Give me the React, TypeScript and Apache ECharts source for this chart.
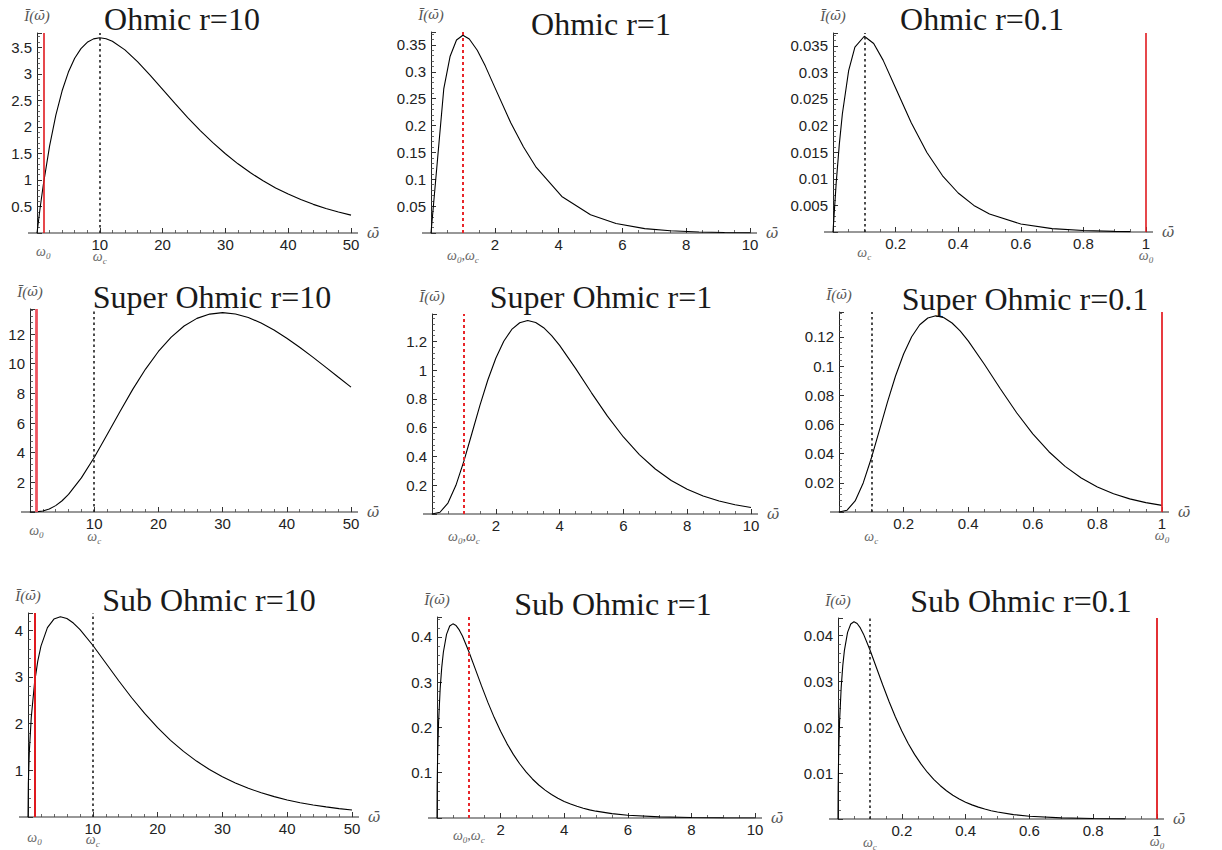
import React, { useEffect, useRef } from "react";
import * as echarts from "echarts";

// ---- spectral intensity samples, one pair of arrays per panel ----
// Ohmic bath
const ohmic10X = [0, 0.5, 1, 2, 3, 4, 5, 6, 7, 8, 9, 10, 11, 12, 14, 16, 18, 20, 22, 24, 26, 28, 30, 32, 34, 36, 38, 40, 42, 44, 46, 48, 50];
const ohmic10Y = [0, 0.476, 0.905, 1.637, 2.222, 2.681, 3.033, 3.293, 3.476, 3.595, 3.659, 3.679, 3.662, 3.614, 3.452, 3.23, 2.975, 2.707, 2.438, 2.177, 1.931, 1.703, 1.494, 1.304, 1.135, 0.984, 0.85, 0.733, 0.63, 0.54, 0.462, 0.395, 0.337];
const ohmic1X = [0, 0.4, 0.6, 0.8, 1, 1.2, 1.45, 1.7, 2, 2.5, 2.9, 3.3, 4.1, 5, 5.8, 6.7, 7.5, 8.4, 9.2, 10];
const ohmic1Y = [0, 0.268, 0.329, 0.359, 0.368, 0.361, 0.34, 0.311, 0.271, 0.205, 0.16, 0.122, 0.068, 0.034, 0.0176, 0.0082, 0.0041, 0.0019, 0.0009, 0.00045];
const ohmic01X = [0, 0.01, 0.02, 0.03, 0.05, 0.07, 0.1, 0.13, 0.16, 0.2, 0.25, 0.3, 0.35, 0.4, 0.45, 0.5, 0.6, 0.7, 0.8, 0.9, 0.95];
const ohmic01Y = [0, 0.00905, 0.01637, 0.02222, 0.03033, 0.03476, 0.03679, 0.03543, 0.0323, 0.02707, 0.02052, 0.01494, 0.01057, 0.00733, 0.005, 0.00337, 0.00149, 0.00064, 0.00027, 0.00011, 0.00007];

// Super-Ohmic bath
const super10X = [0, 1, 2, 3, 4, 5, 6, 8, 10, 12, 14, 16, 18, 20, 22, 24, 26, 28, 30, 32, 34, 36, 38, 40, 42, 44, 46, 48, 50];
const super10Y = [0, 0.009, 0.066, 0.2, 0.429, 0.758, 1.185, 2.3, 3.679, 5.205, 6.767, 8.27, 9.64, 10.827, 11.798, 12.541, 13.059, 13.347, 13.443, 13.356, 13.116, 12.747, 12.275, 11.722, 11.113, 10.461, 9.783, 9.101, 8.422];
const super1X = [0, 0.25, 0.5, 0.75, 1, 1.25, 1.5, 1.75, 2, 2.25, 2.5, 2.75, 3, 3.25, 3.5, 3.75, 4, 4.5, 5, 5.5, 6, 6.5, 7, 7.5, 8, 8.5, 9, 9.5, 10];
const super1Y = [0, 0.0122, 0.0758, 0.1993, 0.3679, 0.5596, 0.7531, 0.9314, 1.0827, 1.2006, 1.2826, 1.3291, 1.3443, 1.331, 1.2946, 1.2403, 1.1722, 1.0124, 0.8422, 0.68, 0.5354, 0.4128, 0.3128, 0.2333, 0.1718, 0.1248, 0.09, 0.0642, 0.0454];
const super01X = [0, 0.025, 0.05, 0.075, 0.1, 0.125, 0.15, 0.175, 0.2, 0.225, 0.25, 0.275, 0.3, 0.325, 0.35, 0.375, 0.4, 0.45, 0.5, 0.55, 0.6, 0.65, 0.7, 0.75, 0.8, 0.85, 0.9, 0.95, 1];
const super01Y = [0, 0.00122, 0.00758, 0.01993, 0.03679, 0.05596, 0.07531, 0.09314, 0.10827, 0.12006, 0.12826, 0.13291, 0.13443, 0.1331, 0.12946, 0.12403, 0.11722, 0.10124, 0.08422, 0.068, 0.05354, 0.04128, 0.03128, 0.02333, 0.01718, 0.01248, 0.009, 0.00642, 0.00454];

// Sub-Ohmic bath
const sub10X = [0, 0.05, 0.2, 0.5, 1, 1.5, 2, 3, 4, 5, 6, 7, 8, 10, 12, 14, 16, 18, 20, 22, 24, 26, 28, 30, 32, 34, 36, 38, 40, 42, 44, 46, 48, 50];
const sub10Y = [0, 0.704, 1.386, 2.127, 2.861, 3.334, 3.661, 4.057, 4.24, 4.289, 4.251, 4.155, 4.019, 3.679, 3.299, 2.918, 2.554, 2.218, 1.914, 1.643, 1.405, 1.198, 1.017, 0.862, 0.729, 0.615, 0.518, 0.436, 0.366, 0.307, 0.258, 0.216, 0.18, 0.151];
const sub1X = [0, 0.005, 0.02, 0.05, 0.1, 0.15, 0.2, 0.3, 0.4, 0.5, 0.6, 0.7, 0.8, 1, 1.2, 1.4, 1.6, 1.8, 2, 2.2, 2.4, 2.6, 2.8, 3, 3.2, 3.4, 3.6, 3.8, 4, 4.2, 4.4, 4.6, 4.8, 5, 5.5, 6, 7, 8, 9, 10];
const sub1Y = [0, 0.0704, 0.1386, 0.2127, 0.2861, 0.3334, 0.3661, 0.4057, 0.424, 0.4289, 0.4251, 0.4155, 0.4019, 0.3679, 0.3299, 0.2918, 0.2554, 0.2218, 0.1914, 0.1643, 0.1405, 0.1198, 0.1017, 0.0862, 0.0729, 0.0615, 0.0518, 0.0436, 0.0366, 0.0307, 0.0258, 0.0216, 0.018, 0.0151, 0.0096, 0.0061, 0.0024, 0.00095, 0.00037, 0.00014];
const sub01X = [0, 0.0005, 0.002, 0.005, 0.01, 0.015, 0.02, 0.03, 0.04, 0.05, 0.06, 0.07, 0.08, 0.1, 0.12, 0.14, 0.16, 0.18, 0.2, 0.22, 0.24, 0.26, 0.28, 0.3, 0.32, 0.34, 0.36, 0.38, 0.4, 0.42, 0.44, 0.46, 0.48, 0.5, 0.55, 0.6, 0.7, 0.8, 0.9];
const sub01Y = [0, 0.00704, 0.01386, 0.02127, 0.02861, 0.03334, 0.03661, 0.04057, 0.0424, 0.04289, 0.04251, 0.04155, 0.04019, 0.03679, 0.03299, 0.02918, 0.02554, 0.02218, 0.01914, 0.01643, 0.01405, 0.01198, 0.01017, 0.00862, 0.00729, 0.00615, 0.00518, 0.00436, 0.00366, 0.00307, 0.00258, 0.00216, 0.0018, 0.00151, 0.00096, 0.00061, 0.00024, 0.000095, 0.000037];

// Panel titles, row by row
const titles = [
  "Ohmic r=10", "Ohmic r=1", "Ohmic r=0.1",
  "Super Ohmic r=10", "Super Ohmic r=1", "Super Ohmic r=0.1",
  "Sub Ohmic r=10", "Sub Ohmic r=1", "Sub Ohmic r=0.1",
];
const xs = [ohmic10X, ohmic1X, ohmic01X, super10X, super1X, super01X, sub10X, sub1X, sub01X];
const ys = [ohmic10Y, ohmic1Y, ohmic01Y, super10Y, super1Y, super01Y, sub10Y, sub1Y, sub01Y];

// Characteristic frequencies: bath cutoff ωc per column, system frequency ω0
const omegaC = [10, 1, 0.1];
const omega0 = 1;

// Axis ranges and tick steps per panel
const xMax = [50, 10, 1, 50, 10, 1, 50, 10, 1];
const xStep = [10, 2, 0.2, 10, 2, 0.2, 10, 2, 0.2];
const yMax = [3.77, 0.374, 0.0374, 13.69, 1.39, 0.137, 4.37, 0.444, 0.0437];
const yStep = [0.5, 0.05, 0.005, 2, 0.2, 0.02, 1, 0.1, 0.01];

// ---- layout (pixels) ----
const GRIDS = [
  { left: 37, top: 33, width: 314, height: 200 },
  { left: 431, top: 32, width: 319, height: 201 },
  { left: 833, top: 33, width: 313, height: 199 },
  { left: 30, top: 309, width: 321, height: 203 },
  { left: 432, top: 314, width: 319, height: 200 },
  { left: 839, top: 312, width: 323, height: 200 },
  { left: 28, top: 613, width: 324, height: 204 },
  { left: 437, top: 617, width: 318, height: 201 },
  { left: 838, top: 618, width: 319, height: 201 },
];
const TITLE_POS = [
  [182, 19], [601, 24], [982, 19],
  [212, 297], [601, 297], [1025, 299],
  [209, 600], [613, 604], [1021, 601],
];
// vertical distance of the ω labels below the axis: [ω0, ωc]
const LABEL_DY = [
  [18, 23], [22, 22], [23, 20],
  [18, 24], [22, 22], [23, 24],
  [20, 22], [17, 17], [22, 23],
];
const RED_WIDTH = [1.6, 2, 1.6, 2.8, 2, 1.8, 2, 2, 1.8];
const RED_COLOR = ["#e01a1f", "#e8262a", "#e01a1f", "#ee5560", "#e8262a", "#e6252b", "#e01a1f", "#e8262a", "#e01a1f"];

const SERIF = "'Liberation Serif', 'Times New Roman', serif";
const MARK_SERIF = "'DejaVu Serif', serif";
const SANS = "'Liberation Sans', Arial, sans-serif";
const OMEGA_BAR = "\u03C9\u0304";

const tickFormatter = (step: number) => (v: number) => {
  if (v <= 1e-12) return "";
  const k = v / step;
  if (Math.abs(k - Math.round(k)) > 1e-6) return "";
  return String(parseFloat(v.toPrecision(6)));
};

const nameRich = {
  i: { fontFamily: SERIF, fontStyle: "italic", fontSize: 15, color: "#555" },
  w: { fontFamily: MARK_SERIF, fontStyle: "italic", fontSize: 13, color: "#555" },
};

function buildOption() {
  const grid = GRIDS.map((g) => ({ ...g, containLabel: false, show: false }));
  const xAxis = GRIDS.map((_, i) => ({
    gridIndex: i,
    type: "value",
    min: 0,
    max: xMax[i],
    interval: xStep[i],
    name: `{w|${OMEGA_BAR}}`,
    nameLocation: "end",
    nameGap: 16,
    nameTextStyle: {
      verticalAlign: "middle",
      rich: { w: { fontFamily: MARK_SERIF, fontStyle: "italic", fontSize: 15, color: "#555" } },
    },
    axisLine: { show: true, onZero: false, lineStyle: { color: "#777", width: 1.6 } },
    axisTick: { show: true, inside: true, length: 5, lineStyle: { color: "#333", width: 1 } },
    minorTick: { show: true, splitNumber: i % 3 === 0 ? 5 : 4, length: 3, lineStyle: { color: "#444", width: 0.8 } },
    splitLine: { show: false },
    minorSplitLine: { show: false },
    axisLabel: {
      formatter: tickFormatter(xStep[i]),
      color: "#222",
      fontSize: 15,
      fontFamily: SANS,
      margin: 4,
    },
  }));
  const yAxis = GRIDS.map((_, i) => ({
    gridIndex: i,
    type: "value",
    min: 0,
    max: yMax[i],
    interval: yStep[i],
    name: `{i|\u012A(}{w|${OMEGA_BAR}}{i|)}`,
    nameLocation: "end",
    nameGap: 10,
    nameTextStyle: { align: "center", rich: nameRich },
    axisLine: { show: true, onZero: false, lineStyle: { color: "#222", width: 1 } },
    axisTick: { show: true, inside: true, length: 5, lineStyle: { color: "#333", width: 1 } },
    minorTick: { show: true, splitNumber: 5, length: 3, lineStyle: { color: "#444", width: 0.8 } },
    splitLine: { show: false },
    minorSplitLine: { show: false },
    axisLabel: {
      formatter: tickFormatter(yStep[i]),
      color: "#222",
      fontSize: 15,
      fontFamily: SANS,
      margin: 5,
    },
  }));

  const series = GRIDS.map((_, i) => {
    const wc = omegaC[i % 3];
    const marks: any[] = [];
    const blackDotted = { color: "#222", width: 1.6, type: [2.5, 3] };
    if (wc === omega0) {
      marks.push({ xAxis: omega0, lineStyle: { color: RED_COLOR[i], width: RED_WIDTH[i], type: [3, 3] } });
    } else {
      marks.push({ xAxis: omega0, lineStyle: { color: RED_COLOR[i], width: RED_WIDTH[i], type: "solid" } });
      marks.push({ xAxis: wc, lineStyle: blackDotted });
    }
    return {
      type: "line",
      xAxisIndex: i,
      yAxisIndex: i,
      data: xs[i].map((x, j) => [x, ys[i][j]]),
      showSymbol: false,
      symbol: "none",
      silent: true,
      lineStyle: { color: "#000", width: 1.1 },
      markLine: {
        silent: true,
        symbol: ["none", "none"],
        label: { show: false },
        data: marks,
      },
    };
  });

  return {
    animation: false,
    backgroundColor: "#fff",
    grid,
    xAxis,
    yAxis,
    series,
  };
}

const omegaRich = {
  w: { fontSize: 14, fontStyle: "italic", fontFamily: SERIF, fill: "#666", color: "#666", lineHeight: 18 },
  s: { fontSize: 9, fontStyle: "italic", fontFamily: SERIF, fill: "#666", color: "#666", verticalAlign: "bottom" },
};

export default function App() {
  const ref = useRef<HTMLDivElement>(null);

  useEffect(() => {
    if (!ref.current) return;
    const chart = echarts.init(ref.current, undefined, { renderer: "svg" });
    chart.setOption(buildOption() as any);

    const graphic: any[] = [];
    titles.forEach((t, i) => {
      graphic.push({
        type: "text",
        x: TITLE_POS[i][0],
        y: TITLE_POS[i][1],
        silent: true,
        style: {
          text: t,
          fontSize: 32,
          fontFamily: SERIF,
          fill: "#1a1a1a",
          align: "center",
          verticalAlign: "middle",
          textAlign: "center",
          textVerticalAlign: "middle",
        },
      });
    });

    // short axis overhangs beyond the origin and the last tick
    GRIDS.forEach((g, i) => {
      const y0 = g.top + g.height;
      graphic.push({
        type: "line",
        silent: true,
        shape: { x1: g.left - 9, y1: y0, x2: g.left, y2: y0 },
        style: { stroke: "#777", lineWidth: 1.6 },
      });
      graphic.push({
        type: "line",
        silent: true,
        shape: { x1: g.left + g.width, y1: y0, x2: g.left + g.width + 7, y2: y0 },
        style: { stroke: "#777", lineWidth: 1.6 },
      });
    });

    // ω0 / ωc labels under the axis, anchored to their frequencies
    GRIDS.forEach((_, i) => {
      const wc = omegaC[i % 3];
      const items: { x: number; text: string; dy: number }[] = [];
      if (wc === omega0) {
        items.push({ x: omega0, text: "{w|\u03C9}{s|0}{w|,\u03C9}{s|c}", dy: LABEL_DY[i][0] });
      } else {
        items.push({ x: omega0, text: "{w|\u03C9}{s|0}", dy: LABEL_DY[i][0] });
        items.push({ x: wc, text: "{w|\u03C9}{s|c}", dy: LABEL_DY[i][1] });
      }
      items.forEach((it) => {
        const p = chart.convertToPixel({ gridIndex: i } as any, [it.x, 0]) as number[];
        graphic.push({
          type: "text",
          x: p[0],
          y: p[1] + it.dy,
          silent: true,
          style: {
            text: it.text,
            rich: omegaRich,
            align: "center",
            verticalAlign: "middle",
            textAlign: "center",
            textVerticalAlign: "middle",
          },
        });
      });
    });

    chart.setOption({ graphic });
    return () => chart.dispose();
  }, []);

  return (
    <div
      ref={ref}
      style={{ position: "fixed", left: 0, top: 0, width: 1222, height: 850, background: "#fff" }}
    />
  );
}
